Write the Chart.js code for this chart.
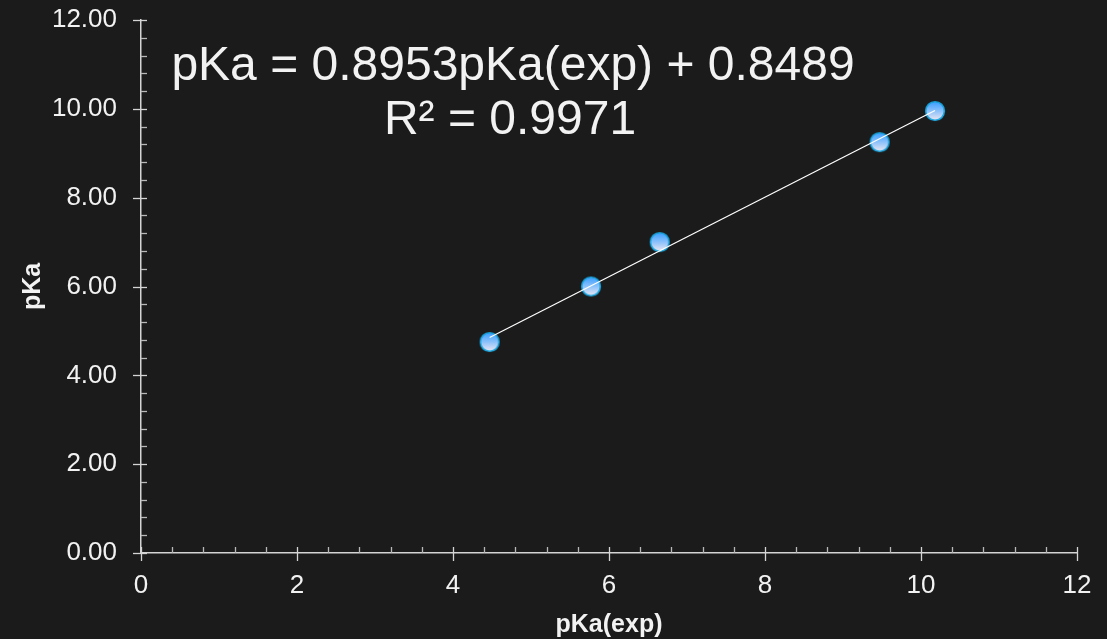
<!DOCTYPE html>
<html>
<head>
<meta charset="utf-8">
<script src="https://cdn.jsdelivr.net/npm/chart.js@4.4.1/dist/chart.umd.min.js"></script>
<style>
  html, body { margin: 0; padding: 0; background: #1b1b1b; }
  #wrap { width: 1107px; height: 639px; position: relative; }
</style>
</head>
<body>
<div id="wrap"><canvas id="pkaChart"></canvas></div>
<script>
// measured vs. calculated pKa
const pkaExp = [4.47, 5.77, 6.65, 9.47, 10.18];
const pkaCalc = [4.75, 6.00, 7.00, 9.25, 9.95];

// linear trendline from the fit
const slope = 0.8953;
const intercept = 0.8489;
const rSquared = 0.9971;

const xMin = 0, xMax = 12, xStep = 2;
const yMin = 0, yMax = 12, yStep = 2;
const minorStep = 0.4;

const textColor = '#f2f2f2';
const axisColor = '#d4d4d4';

// marker: blue-to-light gradient with cyan rim
function makeMarker() {
    const size = 24;
    const c = document.createElement('canvas');
    c.width = size; c.height = size;
    const g = c.getContext('2d');
    const grad = g.createLinearGradient(0, 3, 0, size - 3);
    grad.addColorStop(0, '#3f9fff');
    grad.addColorStop(0.5, '#8cc2fb');
    grad.addColorStop(1, '#ebe6f2');
    g.beginPath();
    g.arc(size / 2, size / 2, 9.3, 0, Math.PI * 2);
    g.fillStyle = grad;
    g.fill();
    g.lineWidth = 1.6;
    g.strokeStyle = '#18a6e0';
    g.stroke();
    return c;
}

const fitX = [Math.min(...pkaExp), Math.max(...pkaExp)];
const points = pkaExp.map((x, i) => ({ x: x, y: pkaCalc[i] }));
const fitLine = fitX.map(x => ({ x: x, y: slope * x + intercept }));

// minor + major tick marks (minor point inward only)
const tickMarks = {
    id: 'tickMarks',
    beforeDatasetsDraw(chart) {
        const { ctx, scales: { x, y } } = chart;
        const x0 = x.getPixelForValue(0);
        const y0 = y.getPixelForValue(0);
        ctx.save();
        ctx.lineWidth = 1.3;
        const n = Math.round((xMax - xMin) / minorStep);
        for (let i = 0; i <= n; i++) {
            const v = xMin + i * minorStep;
            const px = Math.round(x.getPixelForValue(v)) + 0.5;
            const major = i % 5 === 0;
            ctx.strokeStyle = major ? axisColor : '#b8b8b8';
            ctx.beginPath();
            ctx.moveTo(px, y0 - 6);
            ctx.lineTo(px, major ? y0 + 8 : y0);
            ctx.stroke();
        }
        const m = Math.round((yMax - yMin) / minorStep);
        for (let i = 0; i <= m; i++) {
            const v = yMin + i * minorStep;
            const py = Math.round(y.getPixelForValue(v)) + 0.5;
            const major = i % 5 === 0;
            ctx.strokeStyle = major ? axisColor : '#b8b8b8';
            ctx.beginPath();
            ctx.moveTo(major ? x0 - 8 : x0, py);
            ctx.lineTo(x0 + 6, py);
            ctx.stroke();
        }
        ctx.restore();
    }
};

// trendline equation text
const equationLabel = {
    id: 'equationLabel',
    afterDraw(chart) {
        const ctx = chart.ctx;
        ctx.save();
        ctx.fillStyle = textColor;
        ctx.font = '48px "Liberation Sans", Arial, sans-serif';
        ctx.textAlign = 'center';
        ctx.textBaseline = 'alphabetic';
        ctx.fillText('pKa = ' + slope.toFixed(4) + 'pKa(exp) + ' + intercept.toFixed(4), 513, 80);
        ctx.fillText('R² = ' + rSquared.toFixed(4), 510, 134);
        ctx.restore();
    }
};

const ctxPka = document.getElementById('pkaChart').getContext('2d');
const pkaChart = new Chart(ctxPka, {
    type: 'scatter',
    data: {
        datasets: [{
            type: 'line',
            label: 'Linear fit',
            data: fitLine,
            borderColor: '#ffffff',
            borderWidth: 1.2,
            pointRadius: 0,
            fill: false,
            order: 0
        }, {
            label: 'pKa',
            data: points,
            pointStyle: makeMarker(),
            pointRadius: 10,
            order: 1
        }]
    },
    options: {
        responsive: true,
        maintainAspectRatio: false,
        animation: false,
        layout: { padding: { left: 0, top: 20, right: 30, bottom: 0 } },
        plugins: {
            legend: { display: false },
            tooltip: { enabled: false }
        },
        scales: {
            x: {
                type: 'linear',
                min: xMin,
                max: xMax,
                grid: { display: false, drawTicks: false },
                border: { display: true, color: axisColor, width: 1.5 },
                ticks: {
                    stepSize: xStep,
                    color: textColor,
                    padding: 17,
                    font: { family: '"Liberation Sans", Arial, sans-serif', size: 26 },
                    maxRotation: 0
                },
                title: {
                    display: true,
                    text: 'pKa(exp)',
                    color: textColor,
                    font: { family: '"Liberation Sans", Arial, sans-serif', size: 25, weight: 'bold', lineHeight: 1 },
                    padding: { top: 0, bottom: 1 }
                },
                afterFit: scale => {
                    scale.height = 86;
                    scale.paddingLeft = 0;
                    scale.paddingRight = 0;
                }
            },
            y: {
                type: 'linear',
                min: yMin,
                max: yMax,
                grid: { display: false, drawTicks: false },
                border: { display: true, color: axisColor, width: 1.5 },
                ticks: {
                    stepSize: yStep,
                    color: textColor,
                    padding: 24,
                    font: { family: '"Liberation Sans", Arial, sans-serif', size: 26 },
                    callback: v => v.toFixed(2)
                },
                title: {
                    display: true,
                    text: 'pKa',
                    color: textColor,
                    font: { family: '"Liberation Sans", Arial, sans-serif', size: 25, weight: 'bold', lineHeight: 1 },
                    padding: { top: 21, bottom: 0 }
                },
                afterFit: scale => {
                    scale.width = 141;
                    scale.paddingTop = 0;
                    scale.paddingBottom = 0;
                }
            }
        }
    },
    plugins: [tickMarks, equationLabel]
});
</script>
</body>
</html>
